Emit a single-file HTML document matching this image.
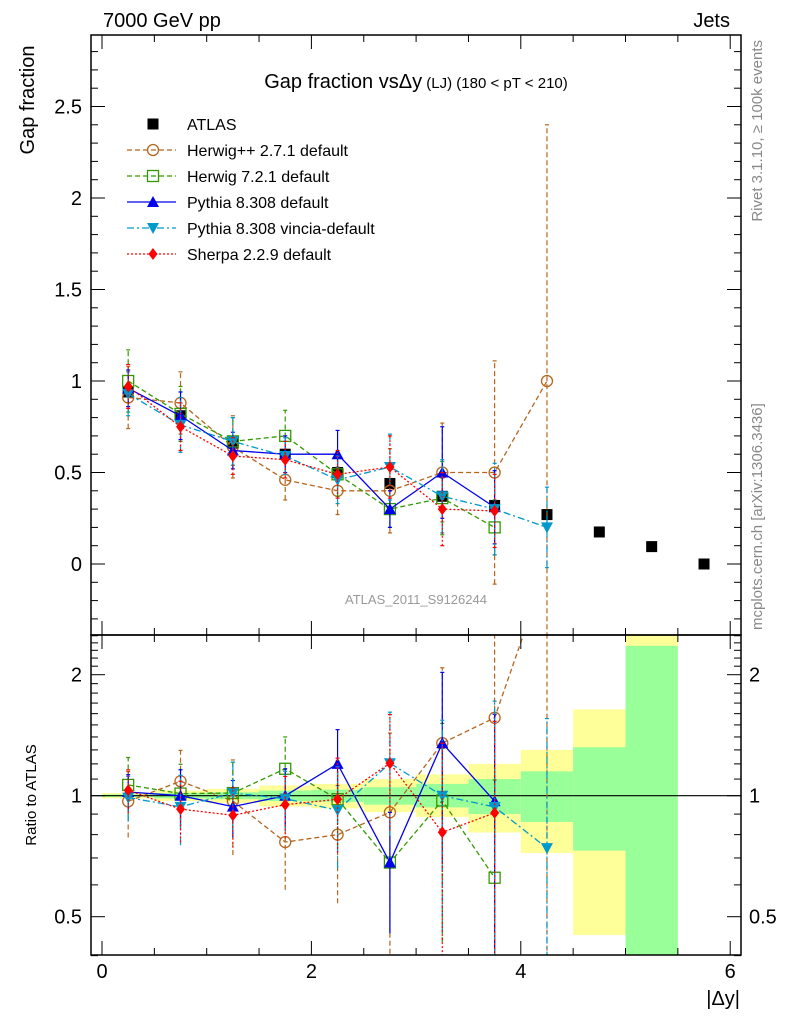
<!DOCTYPE html>
<html><head><meta charset="utf-8"><style>
html,body{margin:0;background:#fff;overflow:hidden;width:786px;height:1024px;}
svg{display:block;font-family:"Liberation Sans",sans-serif;}
</style></head><body>
<svg id="chart" width="786" height="1024" viewBox="0 0 786 1024" xmlns="http://www.w3.org/2000/svg">
<defs>
<clipPath id="clipMain"><rect x="91" y="35" width="650" height="600"/></clipPath>
<clipPath id="clipRatio"><rect x="91" y="635" width="650" height="320"/></clipPath>
</defs>
<text x="103" y="27" font-size="20">7000 GeV pp</text>
<text x="730" y="27" font-size="20" text-anchor="end">Jets</text>
<text x="416" y="88" font-size="20" text-anchor="middle">Gap fraction vs<tspan>Δy</tspan><tspan font-size="15"> (LJ) (180 &lt; pT &lt; 210)</tspan></text>
<text transform="translate(34,100) rotate(-90)" font-size="20" text-anchor="middle">Gap fraction</text>
<text transform="translate(36,795) rotate(-90)" font-size="15" text-anchor="middle">Ratio to ATLAS</text>
<text x="740" y="1005" font-size="20" text-anchor="end">|Δy|</text>
<text transform="translate(762,40) rotate(-90)" font-size="15" fill="#888" text-anchor="end">Rivet 3.1.10, ≥ 100k events</text>
<text transform="translate(762,630) rotate(-90)" font-size="15" fill="#888">mcplots.cern.ch [arXiv:1306.3436]</text>
<text x="416" y="604" font-size="13" fill="#999" text-anchor="middle">ATLAS_2011_S9126244</text>
<g id="bands"></g>
<g id="series"></g>
<g id="axes"></g>
<g id="legend"></g>
</svg>
<script>
const xCenters=[0.25,0.75,1.25,1.75,2.25,2.75,3.25,3.75,4.25,4.75,5.25,5.75];
const atlasVals=[0.94,0.81,0.66,0.60,0.50,0.44,0.37,0.32,0.27,0.175,0.095,0.0];
const bandYellowUp=[1.015,1.03,1.04,1.06,1.07,1.10,1.13,1.20,1.30,1.64,3.0,1];
const bandYellowDn=[0.985,0.97,0.96,0.94,0.93,0.91,0.885,0.81,0.72,0.45,0.2,1];
const bandGreenUp=[1.007,1.015,1.02,1.03,1.035,1.05,1.07,1.10,1.15,1.32,2.36,1];
const bandGreenDn=[0.993,0.985,0.98,0.97,0.965,0.95,0.935,0.90,0.86,0.73,0.2,1];
const herwigppVals=[0.91,0.88,0.64,0.46,0.40,0.40,0.50,0.50,1.0];
const herwigppErr=[0.17,0.17,0.17,0.11,0.13,0.23,0.27,0.61,1.4];
const herwig7Vals=[1.00,0.82,0.67,0.70,0.49,0.30,0.36,0.20];
const herwig7Err=[0.17,0.15,0.13,0.14,0.12,0.10,0.20,0.15];
const pythiaVals=[0.96,0.81,0.62,0.60,0.60,0.30,0.50,0.31];
const pythiaErr=[0.10,0.13,0.10,0.10,0.13,0.10,0.25,0.20];
const vinciaVals=[0.93,0.76,0.67,0.59,0.46,0.53,0.37,0.30,0.20];
const vinciaErr=[0.12,0.15,0.13,0.10,0.13,0.18,0.20,0.25,0.22];
const sherpaVals=[0.97,0.75,0.59,0.57,0.49,0.53,0.30,0.29];
const sherpaErr=[0.12,0.13,0.10,0.10,0.13,0.17,0.20,0.20];
const xTicks=[0,2,4,6];
const yTicks=[0,0.5,1,1.5,2,2.5];
const ratioTicks=[0.5,1,2];

const NS="http://www.w3.org/2000/svg";
const X0=91,X1=741,MT=35,MB=635,RB=955;
const sx=v=>102+104.7*v;
const sy=v=>564-183*v;
const sr=v=>795.7-121*Math.log2(v);
function mk(tag,attrs,parent){const e=document.createElementNS(NS,tag);for(const k in attrs)e.setAttribute(k,attrs[k]);parent.appendChild(e);return e;}
const gB=document.getElementById('bands'),gS=document.getElementById('series'),gA=document.getElementById('axes'),gL=document.getElementById('legend');

const bandClip=mk('g',{'clip-path':'url(#clipRatio)'},gB);
xCenters.forEach((c,i)=>{
  if(bandYellowUp[i]<=bandYellowDn[i])return;
  const y=mk('rect',{x:sx(c-0.25),y:sr(bandYellowUp[i]),width:sx(0.5)-sx(0),height:sr(bandYellowDn[i])-sr(bandYellowUp[i]),fill:'#ffff99'},bandClip);
  
  
  const g=mk('rect',{x:sx(c-0.25),y:sr(bandGreenUp[i]),width:sx(0.5)-sx(0),height:sr(bandGreenDn[i])-sr(bandGreenUp[i]),fill:'#99ff99'},bandClip);
  
  
});
mk('line',{x1:X0,x2:X1,y1:sr(1),y2:sr(1),stroke:'#000','stroke-width':1.2},gB);

function marker(p,type,x,y,col){
  if(type==='circle')return mk('circle',{cx:x,cy:y,r:5.5,fill:'none',stroke:col,'stroke-width':1.3},p);
  if(type==='square')return mk('rect',{x:x-5.5,y:y-5.5,width:11,height:11,fill:'none',stroke:col,'stroke-width':1.3},p);
  if(type==='tri')return mk('path',{d:`M${x},${y-6}L${x+6},${y+5}L${x-6},${y+5}Z`,fill:col},p);
  if(type==='tridn')return mk('path',{d:`M${x},${y+6}L${x+6},${y-5}L${x-6},${y-5}Z`,fill:col},p);
  if(type==='diamond')return mk('path',{d:`M${x},${y-6}L${x+4.5},${y}L${x},${y+6}L${x-4.5},${y}Z`,fill:col},p);
  if(type==='bsquare')return mk('rect',{x:x-5.5,y:y-5.5,width:11,height:11,fill:col},p);
}
const series=[
 {name:'herwigpp',vals:herwigppVals,err:herwigppErr,col:'#b5651d',dash:'5,3',m:'circle',label:'Herwig++ 2.7.1 default'},
 {name:'herwig7',vals:herwig7Vals,err:herwig7Err,col:'#339900',dash:'5,3',m:'square',label:'Herwig 7.2.1 default'},
 {name:'pythia',vals:pythiaVals,err:pythiaErr,col:'#0000ee',dash:'',m:'tri',label:'Pythia 8.308 default'},
 {name:'vincia',vals:vinciaVals,err:vinciaErr,col:'#0099cc',dash:'7,3,2,3',m:'tridn',label:'Pythia 8.308 vincia-default'},
 {name:'sherpa',vals:sherpaVals,err:sherpaErr,col:'#ff0000',dash:'2,2',m:'diamond',label:'Sherpa 2.2.9 default'}
];
const gMain=mk('g',{'clip-path':'url(#clipMain)'},gS);
const gRat=mk('g',{'clip-path':'url(#clipRatio)'},gS);
atlasVals.forEach((v,i)=>{
  const m=marker(gMain,'bsquare',sx(xCenters[i]),sy(v),'#000');
  
  
});
series.forEach(s=>{
  const gm=mk('g',{},gMain);
  const gr=mk('g',{},gRat);
  const pts=s.vals.map((v,i)=>sx(xCenters[i])+','+sy(v)).join(' ');
  mk('polyline',{points:pts,fill:'none',stroke:s.col,'stroke-width':1.3,'stroke-dasharray':s.dash},gm);
  const rp=s.vals.map((v,i)=>sx(xCenters[i])+','+sr(v/atlasVals[i])).join(' ');
  mk('polyline',{points:rp,fill:'none',stroke:s.col,'stroke-width':1.3,'stroke-dasharray':s.dash},gr);
  s.vals.forEach((v,i)=>{
    const x=sx(xCenters[i]),e=s.err[i],a=atlasVals[i];
    mk('line',{x1:x,x2:x,y1:sy(v-e),y2:sy(v+e),stroke:s.col,'stroke-width':1.2,'stroke-dasharray':s.dash},gm);
    mk('line',{x1:x-2,x2:x+2,y1:sy(v-e),y2:sy(v-e),stroke:s.col,'stroke-width':1.2},gm);
    mk('line',{x1:x-2,x2:x+2,y1:sy(v+e),y2:sy(v+e),stroke:s.col,'stroke-width':1.2},gm);
    const m=marker(gm,s.m,x,sy(v),s.col);
    
    
    const lo=Math.max((v-e)/a,0.05),hi=(v+e)/a;
    mk('line',{x1:x,x2:x,y1:sr(lo),y2:sr(hi),stroke:s.col,'stroke-width':1.2,'stroke-dasharray':s.dash},gr);
    mk('line',{x1:x-2,x2:x+2,y1:sr(hi),y2:sr(hi),stroke:s.col,'stroke-width':1.2},gr);
    const rm=marker(gr,s.m,x,sr(v/a),s.col);
    
    
  });
});

mk('rect',{x:X0,y:MT,width:X1-X0,height:MB-MT,fill:'none',stroke:'#000','stroke-width':1.5},gA);
mk('rect',{x:X0,y:MB,width:X1-X0,height:RB-MB,fill:'none',stroke:'#000','stroke-width':1.5},gA);
for(let t=0;t<=6.001;t+=0.5){
  const x=sx(t),maj=Math.abs(t%2)<1e-6,L=maj?14:7;
  [[MT,1],[MB,-1],[MB,1],[RB,-1]].forEach(([y,d])=>mk('line',{x1:x,x2:x,y1:y,y2:y+d*L,stroke:'#000','stroke-width':1},gA));
}
xTicks.forEach(t=>{
  const tx=mk('text',{x:sx(t),y:978,'font-size':20,'text-anchor':'middle'},gA);tx.textContent=t;
  
  
});
for(let v=-0.3;v<=2.85;v+=0.1){
  const vv=Math.round(v*10)/10,y=sy(vv),maj=Math.abs((vv*2)%1)<1e-6,L=maj?14:7;
  mk('line',{x1:X0,x2:X0+L,y1:y,y2:y,stroke:'#000'},gA);
  mk('line',{x1:X1,x2:X1-L,y1:y,y2:y,stroke:'#000'},gA);
}
yTicks.forEach(t=>{
  const tx=mk('text',{x:82,y:sy(t)+7,'font-size':20,'text-anchor':'end'},gA);tx.textContent=t;
  
  
});
[0.4,0.5,0.6,0.7,0.8,0.9,1,1.1,1.2,1.3,1.4,1.5,1.6,1.7,1.8,1.9,2,2.1,2.2,2.3,2.4,2.5].forEach(v=>{
  const y=sr(v),L=ratioTicks.includes(v)?14:7;
  mk('line',{x1:X0,x2:X0+L,y1:y,y2:y,stroke:'#000'},gA);
  mk('line',{x1:X1,x2:X1-L,y1:y,y2:y,stroke:'#000'},gA);
});
ratioTicks.forEach(t=>{
  const a=mk('text',{x:82,y:sr(t)+7,'font-size':20,'text-anchor':'end'},gA);a.textContent=t;
  
  
  const b=mk('text',{x:749,y:sr(t)+7,'font-size':20},gA);b.textContent=t;
  
  
});
const rows=[{label:'ATLAS',m:'bsquare',col:'#000',line:false}].concat(series.map(s=>({label:s.label,m:s.m,col:s.col,dash:s.dash,line:true})));
rows.forEach((r,i)=>{
  const y=124+26*i;
  const g=mk('g',{},gL);
  
  
  if(r.line)mk('line',{x1:127,x2:176,y1:y,y2:y,stroke:r.col,'stroke-width':1.3,'stroke-dasharray':r.dash},g);
  marker(g,r.m,153,y,r.col);
  const t=mk('text',{x:187,y:y+6,'font-size':16},g);t.textContent=r.label;
});
</script>
</body></html>
